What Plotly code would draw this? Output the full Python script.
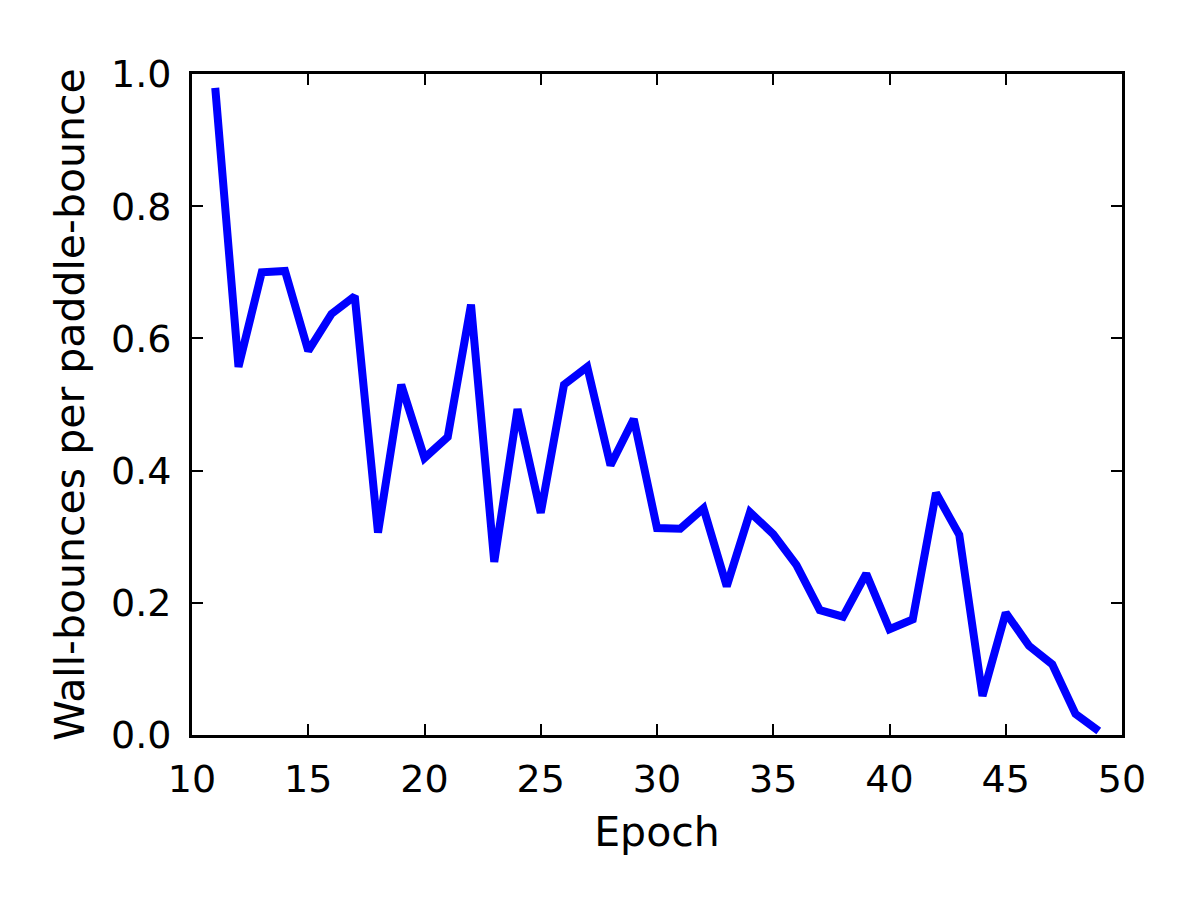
import plotly.graph_objects as go

epochs = list(range(11, 50))
bounces = [0.979, 0.557, 0.700, 0.702, 0.581, 0.637, 0.664, 0.306, 0.530, 0.419,
           0.451, 0.651, 0.262, 0.493, 0.336, 0.530, 0.557, 0.408, 0.478, 0.313,
           0.312, 0.343, 0.225, 0.337, 0.304, 0.257, 0.189, 0.179, 0.244, 0.160,
           0.175, 0.366, 0.303, 0.059, 0.185, 0.135, 0.107, 0.032, 0.006]

x_ticks = [10, 15, 20, 25, 30, 35, 40, 45, 50]
y_ticks = [0.0, 0.2, 0.4, 0.6, 0.8, 1.0]
y_tick_labels = ["0.0", "0.2", "0.4", "0.6", "0.8", "1.0"]

fig = go.Figure()
fig.add_trace(go.Scatter(x=epochs, y=bounces, mode="lines",
                         line=dict(color="#0000ff", width=8)))

font = dict(family="DejaVu Sans", size=38, color="black")
title_font = dict(family="DejaVu Sans", size=41, color="black")
fig.update_layout(
    width=1200, height=900,
    margin=dict(l=184, r=86, t=66, b=173),
    paper_bgcolor="white", plot_bgcolor="white",
    showlegend=False,
    font=font,
)
axis_common = dict(showline=True, linecolor="black", linewidth=3, mirror="ticks",
                   ticks="inside", ticklen=11, tickwidth=2, tickcolor="black",
                   showgrid=False, zeroline=False, tickfont=font)
fig.update_xaxes(range=[10, 50], tickvals=x_ticks, ticktext=[str(v) for v in x_ticks],
                 title=dict(text="Epoch", font=title_font, standoff=18), ticklabelstandoff=8,
                 **axis_common)
fig.update_yaxes(range=[0, 1], tickvals=y_ticks, ticktext=y_tick_labels,
                 title=dict(text="Wall-bounces per paddle-bounce", font=title_font, standoff=14),
                 ticklabelstandoff=10, **axis_common)

fig.write_html("out.html")
